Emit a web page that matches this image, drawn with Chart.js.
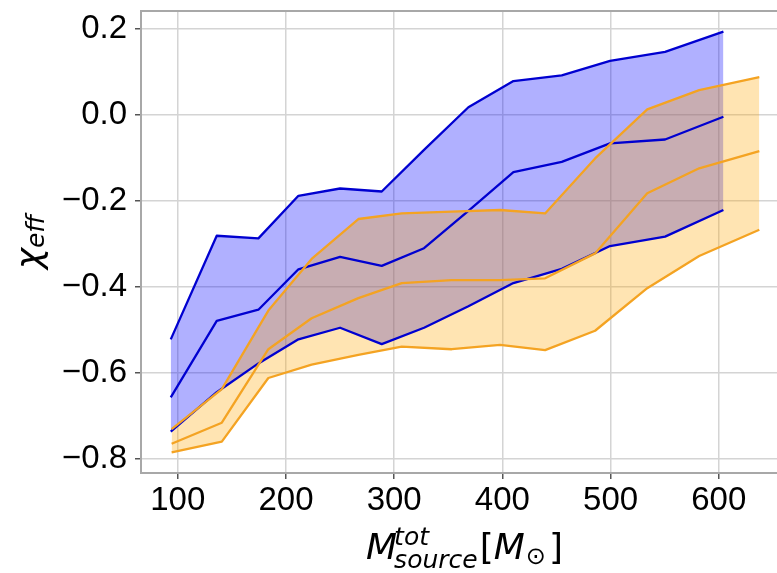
<!DOCTYPE html>
<html>
<head>
<meta charset="utf-8">
<script src="https://cdn.jsdelivr.net/npm/chart.js@4.4.0/dist/chart.umd.min.js"></script>
<style>
  html, body { margin: 0; padding: 0; overflow: hidden; background: #fff; }
  canvas { display: block; }
</style>
</head>
<body>
<canvas id="grafico" width="800" height="573"></canvas>
<script>
// bins de masa total (serie azul)
const blueMass = [93.5, 136.0, 174.5, 211.5, 250.0, 288.5, 327.6, 368.6, 410.2, 454.9, 499.5, 550.4, 604.3]
const blueLow  = [-0.737, -0.645, -0.578, -0.522, -0.495, -0.533, -0.495, -0.445, -0.391, -0.358, -0.305, -0.283, -0.221]
const blueMed  = [-0.657, -0.479, -0.453, -0.359, -0.330, -0.351, -0.310, -0.223, -0.133, -0.109, -0.066, -0.057, -0.004]
const blueHigh = [-0.522, -0.281, -0.287, -0.188, -0.171, -0.178, -0.081, 0.018, 0.079, 0.092, 0.126, 0.147, 0.194]

// bins de masa total (serie naranja)
const orangeMass = [94.3, 140.7, 183.7, 223.7, 266.9, 307.0, 353.2, 397.9, 439.5, 485.7, 533.9, 581.9, 637.5]
const orangeLow  = [-0.785, -0.760, -0.612, -0.581, -0.558, -0.539, -0.545, -0.535, -0.547, -0.502, -0.403, -0.328, -0.267]
const orangeMed  = [-0.765, -0.716, -0.545, -0.473, -0.426, -0.391, -0.384, -0.384, -0.380, -0.322, -0.182, -0.124, -0.084]
const orangeHigh = [-0.731, -0.638, -0.455, -0.335, -0.242, -0.229, -0.225, -0.221, -0.229, -0.101, 0.013, 0.058, 0.088]

const xTicks = [100, 200, 300, 400, 500, 600]
const yTicks = [-0.8, -0.6, -0.4, -0.2, 0.0, 0.2]

const azul = '#0000d0'
const naranja = '#f4a322'
const azulFill = 'rgba(0, 0, 255, 0.31)'
const naranjaFill = 'rgba(255, 165, 0, 0.30)'

const pts = (xs, ys) => xs.map((x, i) => ({ x: x, y: ys[i] }))

const linea = (datos, color, orden, extra) => Object.assign({
    data: datos,
    borderColor: color,
    borderWidth: 2.3,
    borderJoinStyle: 'round',
    pointRadius: 0,
    tension: 0,
    fill: false,
    order: orden
}, extra || {})

// marco de arriba y derecha + titulos de ejes con sub/superindices
const marco = {
    id: 'marco',
    afterDatasetsDraw(chart) {
        const ctx = chart.ctx
        const a = chart.chartArea
        ctx.save()
        ctx.strokeStyle = '#a8a8a8'
        ctx.lineWidth = 2
        ctx.strokeRect(a.left, a.top, a.right - a.left, a.bottom - a.top)
        ctx.restore()
    },
    afterDraw(chart) {
        const ctx = chart.ctx
        const a = chart.chartArea
        const it = s => 'italic ' + s + 'px "DejaVu Sans"'
        const up = s => s + 'px "DejaVu Sans"'
        ctx.save()
        ctx.fillStyle = '#000'
        ctx.textAlign = 'left'
        ctx.textBaseline = 'alphabetic'

        // eje x: M^{tot}_{source}[M_⊙]
        ctx.font = it(36); const wM = ctx.measureText('M').width
        ctx.font = it(25); const wSup = ctx.measureText('tot').width
        const wSub = ctx.measureText('source').width
        ctx.font = up(36); const wLb = ctx.measureText('[').width
        const wRb = ctx.measureText(']').width
        ctx.font = up(24); const wDot = ctx.measureText('\u2299').width
        const total = wM - 3 + Math.max(wSup, wSub) + 2 + wLb + wM + 1 + wDot + 3 + wRb
        const yb = 559
        let x = (a.left + a.right) / 2 - total / 2
        ctx.font = it(36); ctx.fillText('M', x, yb)
        x += wM - 3
        ctx.font = it(25)
        ctx.fillText('tot', x, yb - 14)
        ctx.fillText('source', x, yb + 9)
        x += Math.max(wSup, wSub) + 2
        ctx.font = up(36); ctx.fillText('[', x, yb)
        x += wLb
        ctx.font = it(36); ctx.fillText('M', x, yb)
        x += wM + 1
        ctx.font = up(24); ctx.fillText('\u2299', x, yb + 5)
        x += wDot + 3
        ctx.font = up(36); ctx.fillText(']', x, yb)

        // eje y: χ_eff
        ctx.font = it(36); const wChi = ctx.measureText('\u03c7').width
        ctx.font = it(25); const wEff = ctx.measureText('eff').width
        const largo = wChi + wEff
        ctx.translate(41, (a.top + a.bottom) / 2 + largo / 2)
        ctx.rotate(-Math.PI / 2)
        ctx.font = it(36); ctx.fillText('\u03c7', 0, 0)
        ctx.font = it(25); ctx.fillText('eff', wChi, 3)
        ctx.restore()
    }
}

const fuenteTicks = { family: '"Liberation Sans", Arial, sans-serif', size: 33 }

const fijarEje = (ancho, alto) => scale => {
    if (ancho) scale.width = ancho
    if (alto) scale.height = alto
    scale.paddingTop = 0
    scale.paddingBottom = 0
    scale.paddingLeft = 0
    scale.paddingRight = 0
}

const grafico = new Chart(document.getElementById('grafico'), {
    type: 'line',
    data: {
        datasets: [
            linea(pts(orangeMass, orangeLow), naranja, 0),
            linea(pts(orangeMass, orangeMed), naranja, 0),
            linea(pts(orangeMass, orangeHigh), naranja, 0, { fill: { target: 0 }, backgroundColor: naranjaFill }),
            linea(pts(blueMass, blueLow), azul, 1),
            linea(pts(blueMass, blueMed), azul, 1),
            linea(pts(blueMass, blueHigh), azul, 1, { fill: { target: 3 }, backgroundColor: azulFill })
        ]
    },
    options: {
        responsive: false,
        animation: false,
        devicePixelRatio: 1,
        layout: { padding: { left: 0, right: 12, top: 11, bottom: 0 } },
        plugins: {
            legend: { display: false },
            tooltip: { enabled: false },
            filler: { drawTime: 'beforeDatasetsDraw' }
        },
        scales: {
            x: {
                type: 'linear',
                min: 66,
                max: 664,
                afterBuildTicks: scale => { scale.ticks = xTicks.map(v => ({ value: v })) },
                afterFit: fijarEje(null, 100),
                border: { display: false },
                grid: { color: '#d4d4d4', lineWidth: 1.5, tickLength: 6, tickColor: '#555', tickWidth: 1.5 },
                ticks: {
                    font: fuenteTicks,
                    color: '#000',
                    padding: 2,
                    maxRotation: 0,
                    autoSkip: false,
                    callback: v => String(v)
                }
            },
            y: {
                min: -0.833,
                max: 0.242,
                afterBuildTicks: scale => { scale.ticks = yTicks.map(v => ({ value: v })) },
                afterFit: fijarEje(141, null),
                border: { display: false },
                grid: { color: '#d4d4d4', lineWidth: 1.5, tickLength: 6, tickColor: '#555', tickWidth: 1.5 },
                ticks: {
                    font: fuenteTicks,
                    color: '#000',
                    padding: 8,
                    autoSkip: false,
                    callback: v => v.toFixed(1).replace('-', '\u2212')
                }
            }
        }
    },
    plugins: [marco]
})
</script>
</body>
</html>
